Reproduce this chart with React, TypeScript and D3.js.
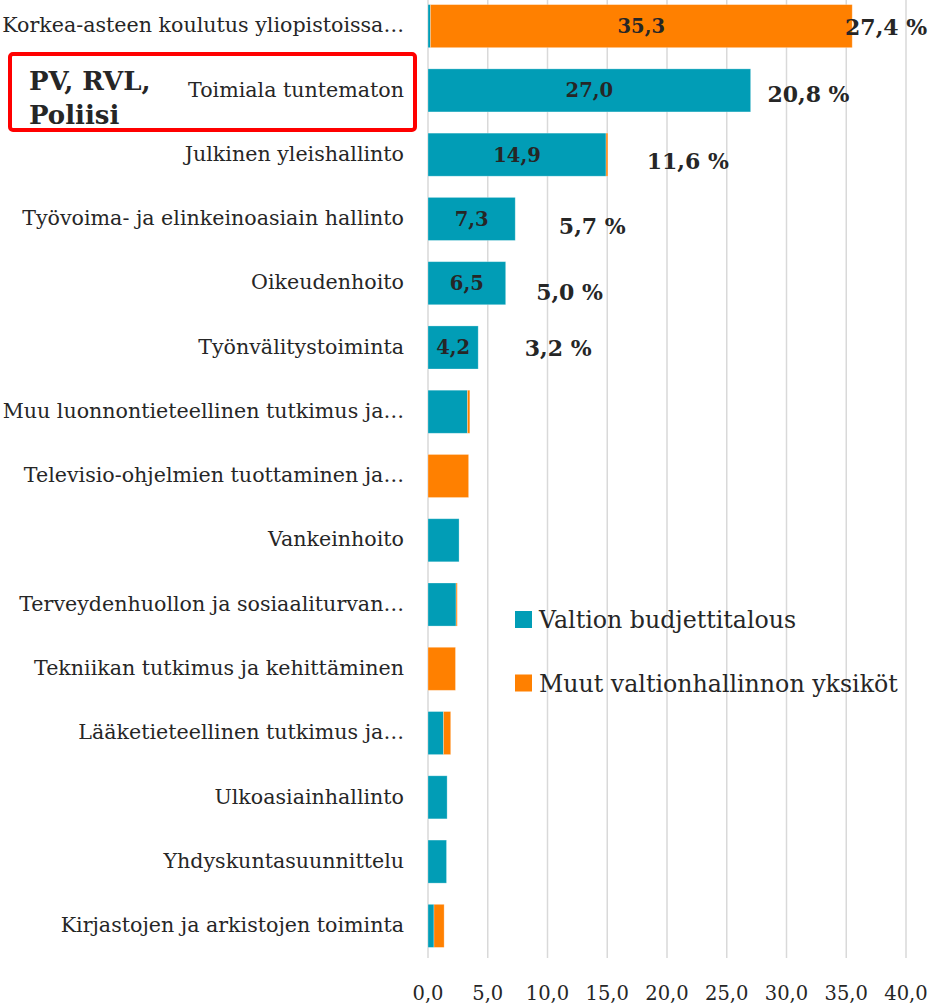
import React from "react";
import * as d3 from "d3";

const categories = [
  "Korkea-asteen koulutus yliopistoissa…",
  "Toimiala tuntematon",
  "Julkinen yleishallinto",
  "Työvoima- ja elinkeinoasiain hallinto",
  "Oikeudenhoito",
  "Työnvälitystoiminta",
  "Muu luonnontieteellinen tutkimus ja…",
  "Televisio-ohjelmien tuottaminen ja…",
  "Vankeinhoito",
  "Terveydenhuollon ja sosiaaliturvan…",
  "Tekniikan tutkimus ja kehittäminen",
  "Lääketieteellinen tutkimus ja…",
  "Ulkoasiainhallinto",
  "Yhdyskuntasuunnittelu",
  "Kirjastojen ja arkistojen toiminta",
];
const budgetValues = [0.2, 27.0, 14.9, 7.3, 6.5, 4.2, 3.3, 0, 2.6, 2.35, 0, 1.3, 1.6, 1.55, 0.5];
const otherValues = [35.3, 0, 0.15, 0, 0, 0, 0.2, 3.4, 0, 0.1, 2.3, 0.6, 0, 0, 0.85];
const seriesNames = ["Valtion budjettitalous", "Muut valtionhallinnon yksiköt"];
const seriesColors = ["#019db6", "#ff8000"];
const xTicks = [0, 5, 10, 15, 20, 25, 30, 35, 40];
const shareLabels = ["27,4 %", "20,8 %", "11,6 %", "5,7 %", "5,0 %", "3,2 %"];
const shareLabelX = [34.9, 28.4, 18.3, 10.95, 9.05, 8.1];
const shareLabelDy = [1, 4, 6, 7, 9, 1];
const boxTitle = ["PV, RVL,", "Poliisi"];

const W = 931;
const H = 1006;
const FONT = "'DejaVu Serif', serif";
const TXT = "#262626";

export default function App() {
  const x = d3.scaleLinear().domain([0, 40]).range([428, 906]);
  const y = d3
    .scaleBand<string>()
    .domain(categories)
    .range([-6, 958])
    .paddingInner(0.33)
    .paddingOuter(0.165);
  const fmt = (v: number) => d3.format(".1f")(v).replace(".", ",");

  const rows = categories.map((c, i) => {
    const segs = [
      { s: 0, v: budgetValues[i], x0: 0, x1: budgetValues[i] },
      { s: 1, v: otherValues[i], x0: budgetValues[i], x1: budgetValues[i] + otherValues[i] },
    ];
    return { c, i, segs };
  });

  return (
    <svg
      width={W}
      height={H}
      style={{ position: "absolute", left: 0, top: 0, background: "#fff" }}
      fontFamily={FONT}
    >
      {xTicks.map((t) => (
        <line key={t} x1={x(t)} x2={x(t)} y1={0} y2={958} stroke="#d9d9d9" strokeWidth={1.5} />
      ))}
      {xTicks.map((t) => (
        <text key={"l" + t} x={x(t)} y={1000} textAnchor="middle" fontSize={19.5} fill={TXT}>
          {fmt(t)}
        </text>
      ))}
      {rows.map((r) => {
        const yc = (y(r.c) as number) + y.bandwidth() / 2;
        return (
          <g key={r.c}>
            {r.segs.map((sg) =>
              sg.v > 0 ? (
                <rect
                  key={sg.s}
                  x={x(sg.x0)}
                  y={y(r.c)}
                  width={x(sg.x1) - x(sg.x0)}
                  height={y.bandwidth()}
                  fill={seriesColors[sg.s]}
                  stroke="#ffffff"
                  strokeOpacity={0.35}
                  strokeWidth={0.8}
                />
              ) : null
            )}
            {r.segs.map((sg) =>
              sg.v >= 4 ? (
                <text
                  key={"v" + sg.s}
                  x={(x(sg.x0) + x(sg.x1)) / 2}
                  y={yc}
                  dy="0.36em"
                  textAnchor="middle"
                  fontSize={19.5}
                  fontWeight="bold"
                  fill={TXT}
                >
                  {fmt(sg.v)}
                </text>
              ) : null
            )}
            <text x={404} y={yc} dy="0.3em" textAnchor="end" fontSize={20.6} fill={TXT}>
              {r.c}
            </text>
          </g>
        );
      })}
      {shareLabels.map((s, i) => {
        const yc = (y(categories[i]) as number) + y.bandwidth() / 2 + shareLabelDy[i];
        return (
          <text key={s} x={x(shareLabelX[i])} y={yc} dy="0.36em" fontSize={22} fontWeight="bold" fill={TXT}>
            {s}
          </text>
        );
      })}
      <rect x={10} y={54} width={405} height={76} rx={3} fill="none" stroke="#ff0000" strokeWidth={4} />
      <text x={29} y={90} fontSize={26} fontWeight="bold" fill={TXT}>
        {boxTitle[0]}
      </text>
      <text x={29} y={124} fontSize={26} fontWeight="bold" fill={TXT}>
        {boxTitle[1]}
      </text>
      {seriesNames.map((n, i) => (
        <g key={n} transform={`translate(515, ${611 + i * 63.5})`}>
          <rect width={17} height={17} fill={seriesColors[i]} />
          <text x={24} y={8.5} dy="0.36em" fontSize={23.7} fill={TXT}>
            {n}
          </text>
        </g>
      ))}
    </svg>
  );
}
